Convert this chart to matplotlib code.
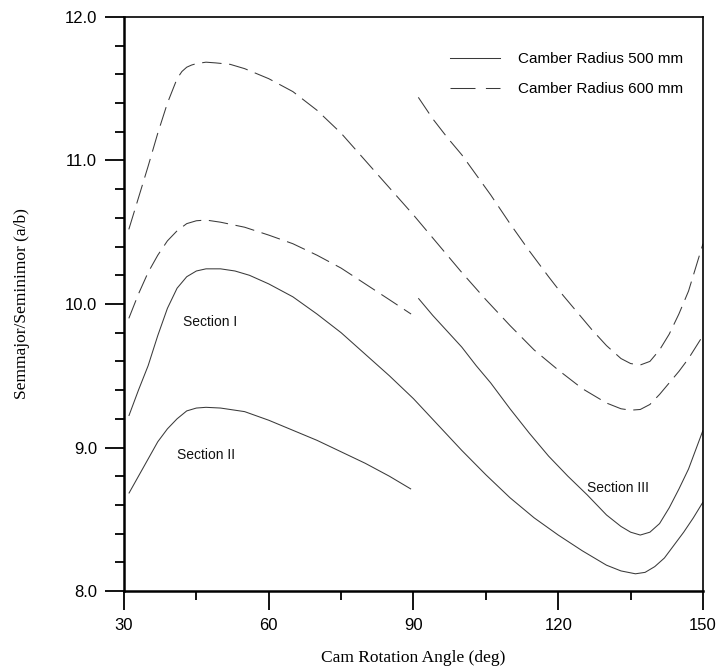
import matplotlib
matplotlib.use("Agg")
import matplotlib.pyplot as plt
from matplotlib.lines import Line2D
from matplotlib.ticker import MultipleLocator, FormatStrFormatter

# ---- data ----
# Camber radius 600 mm (dashed)
dA_x = [31, 33, 35, 37, 39, 41, 42, 43, 44, 45, 47, 49, 52, 55, 60, 65, 70, 75, 80, 85, 90,
        95, 100, 105, 110, 115, 120, 125, 130, 133, 135, 137, 139, 141, 143, 145, 147, 150]
dA_y = [10.52, 10.74, 10.96, 11.19, 11.40, 11.57, 11.62, 11.65, 11.665, 11.675, 11.685, 11.68,
        11.67, 11.64, 11.57, 11.48, 11.35, 11.19, 11.00, 10.81, 10.62, 10.42, 10.22, 10.03,
        9.85, 9.68, 9.54, 9.41, 9.31, 9.27, 9.26, 9.265, 9.30, 9.37, 9.45, 9.53, 9.62, 9.78]

dB_x = [31, 33, 35, 37, 39, 41, 43, 45, 47, 50, 55, 60, 65, 70, 75, 80, 85, 89.5]
dB_y = [9.90, 10.07, 10.22, 10.34, 10.44, 10.51, 10.56, 10.58, 10.585, 10.57, 10.535,
        10.48, 10.42, 10.34, 10.25, 10.14, 10.03, 9.93]

dC_x = [91, 94, 97, 100, 103, 106, 110, 114, 118, 121, 124, 127, 130, 133, 135, 137,
        139, 141, 143, 145, 147, 150]
dC_y = [11.44, 11.29, 11.16, 11.04, 10.90, 10.76, 10.56, 10.37, 10.19, 10.06, 9.94, 9.82,
        9.71, 9.62, 9.585, 9.575, 9.60, 9.68, 9.79, 9.93, 10.09, 10.42]

# Camber radius 500 mm (solid)
sA_x = [31, 33, 35, 37, 39, 41, 43, 45, 47, 50, 53, 56, 60, 65, 70, 75, 80, 85, 90,
        95, 100, 105, 110, 115, 120, 125, 130, 133, 136, 138, 140, 142, 144, 146, 148, 150]
sA_y = [9.22, 9.40, 9.57, 9.78, 9.97, 10.11, 10.19, 10.23, 10.245, 10.245, 10.23, 10.20,
        10.14, 10.05, 9.93, 9.80, 9.65, 9.50, 9.34, 9.16, 8.98, 8.81, 8.65, 8.51, 8.39,
        8.28, 8.18, 8.14, 8.12, 8.13, 8.17, 8.23, 8.32, 8.41, 8.51, 8.62]

sB_x = [31, 33, 35, 37, 39, 41, 43, 45, 47, 50, 55, 60, 65, 70, 75, 80, 85, 89.5]
sB_y = [8.68, 8.80, 8.92, 9.04, 9.13, 9.20, 9.255, 9.275, 9.28, 9.275, 9.25, 9.19, 9.12,
        9.05, 8.97, 8.89, 8.80, 8.71]

sC_x = [91, 94, 97, 100, 103, 106, 110, 114, 118, 122, 126, 130, 133, 135, 137, 139,
        141, 143, 145, 147, 150]
sC_y = [10.04, 9.92, 9.81, 9.70, 9.57, 9.45, 9.27, 9.10, 8.94, 8.80, 8.67, 8.53, 8.45,
        8.41, 8.39, 8.41, 8.47, 8.58, 8.71, 8.85, 9.12]

legend_labels = ["Camber Radius 500 mm", "Camber Radius 600 mm"]
section_labels = ["Section I", "Section II", "Section III"]
section_pos = [(42.2, 9.875), (41.0, 8.95), (126.0, 8.72)]

# ---- figure ----
plt.rcParams['lines.scale_dashes'] = False
fig = plt.figure(figsize=(7.18, 6.71), dpi=100)
ax = fig.add_axes([0.1727, 0.1192, 0.8064, 0.8555])

lc = '#3a3a3a'
lw = 0.75
dash = (14, 5.5)
for xs, ys in [(sA_x, sA_y), (sB_x, sB_y), (sC_x, sC_y)]:
    ax.plot(xs, ys, color=lc, lw=lw, solid_capstyle='butt', solid_joinstyle='round')
for xs, ys in [(dA_x, dA_y), (dB_x, dB_y), (dC_x, dC_y)]:
    ax.plot(xs, ys, color=lc, lw=lw, dashes=dash)

ax.set_xlim(30, 150)
ax.set_ylim(8, 12)
ax.xaxis.set_major_locator(MultipleLocator(30))
ax.xaxis.set_minor_locator(MultipleLocator(15))
ax.yaxis.set_major_locator(MultipleLocator(1))
ax.yaxis.set_minor_locator(MultipleLocator(0.2))
ax.yaxis.set_major_formatter(FormatStrFormatter('%.1f'))

sans = ['Liberation Sans', 'DejaVu Sans']
serif = ['Liberation Serif', 'DejaVu Serif']
ax.tick_params(which='major', direction='out', length=13.5, width=1.3, pad=6,
               labelsize=12)
ax.tick_params(which='minor', direction='out', length=6.5, width=1.3)
for lab in ax.get_xticklabels() + ax.get_yticklabels():
    lab.set_family(sans)

for s in ['left', 'bottom']:
    ax.spines[s].set_linewidth(1.8)
for s in ['top', 'right']:
    ax.spines[s].set_linewidth(1.2)

ax.set_xlabel("Cam Rotation Angle (deg)", family=serif, fontsize=12.5, labelpad=12)
ax.set_ylabel("Semmajor/Seminimor (a/b)", family=serif, fontsize=12.5, labelpad=25)

for t, (x, y) in zip(section_labels, section_pos):
    ax.text(x, y, t, family=sans, fontsize=10, ha='left', va='center', color='#111')

handles = [Line2D([], [], color=lc, lw=lw),
           Line2D([], [], color=lc, lw=lw, dashes=(18, 7.5))]
leg = ax.legend(handles, legend_labels, loc='upper left', bbox_to_anchor=(0.549, 0.952),
                frameon=False, borderpad=0, handlelength=3.3, handletextpad=1.2,
                labelspacing=1.05, prop={'family': sans, 'size': 11})

fig.savefig("out.png", dpi=100)
